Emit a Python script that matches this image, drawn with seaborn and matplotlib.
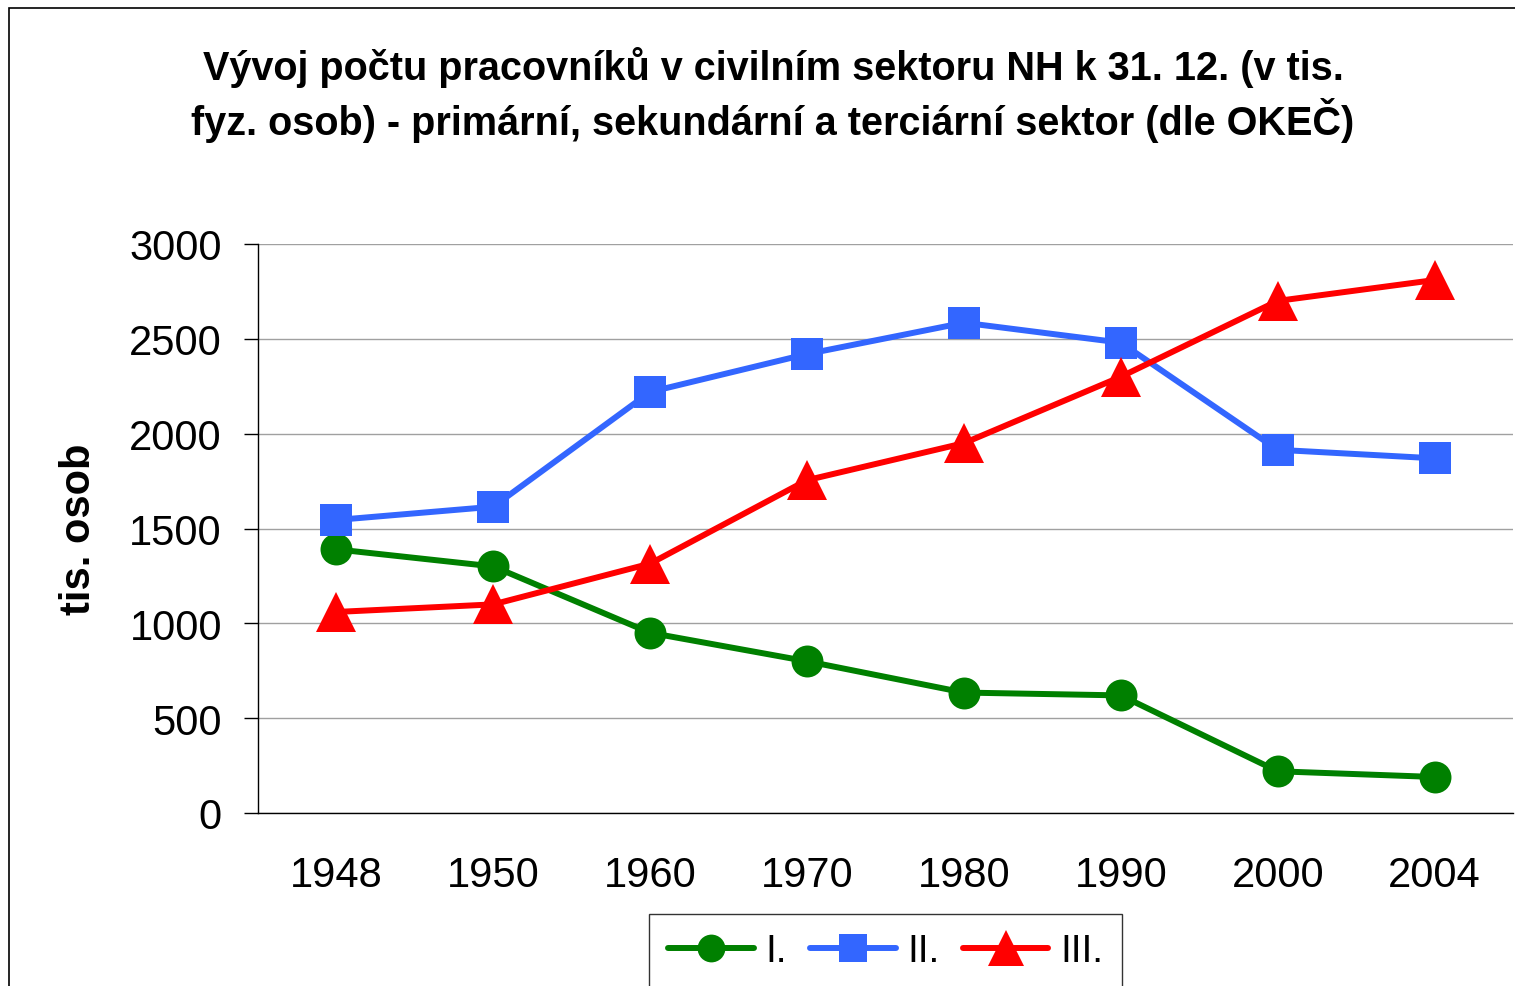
import numpy as np
import pandas as pd
import seaborn as sns
import matplotlib.pyplot as plt
from matplotlib.patches import Rectangle
from matplotlib.lines import Line2D

# data (tis. osob)
years = ['1948', '1950', '1960', '1970', '1980', '1990', '2000', '2004']
primary = [1390, 1300, 950, 800, 635, 620, 220, 190]
secondary = [1545, 1615, 2220, 2420, 2585, 2480, 1915, 1870]
tertiary = [1060, 1100, 1315, 1755, 1950, 2300, 2700, 2810]
series_names = ['I.', 'II.', 'III.']

df = pd.DataFrame({
    'pos': list(range(len(years))) * 3,
    'value': primary + secondary + tertiary,
    'sektor': [s for s in series_names for _ in years],
})

colors = {'I.': '#008000', 'II.': '#3366FF', 'III.': '#FF0000'}
markers = {'I.': 'o', 'II.': 's', 'III.': '^'}
msizes = {'I.': 23, 'II.': 23, 'III.': 29}

sns.set_style('white')
plt.rcParams['font.family'] = ['Liberation Sans', 'DejaVu Sans']
plt.rcParams['text.color'] = 'black'
plt.rcParams['axes.labelcolor'] = 'black'
plt.rcParams['xtick.color'] = 'black'
plt.rcParams['ytick.color'] = 'black'

fig = plt.figure(figsize=(15.15, 9.87), dpi=100)
ax = fig.add_axes([258 / 1515, 1 - 814 / 987, 1255 / 1515, (814 - 245) / 987])

for s in series_names:
    sub = df[df['sektor'] == s]
    sns.lineplot(data=sub, x='pos', y='value', color=colors[s], marker=markers[s],
                 linewidth=4.3, markersize=msizes[s], markeredgewidth=0, ax=ax)

ax.set_xlim(-0.5, len(years) - 0.5)
ax.set_ylim(0, 3000)
ax.set_yticks(np.arange(0, 3001, 500))
ax.set_xticks(range(len(years)))
ax.set_xticklabels(years)
ax.set_xticks(np.arange(-0.5, len(years), 1), minor=True)
ax.tick_params(axis='x', which='major', length=0, labelsize=30, pad=30)
ax.tick_params(axis='x', which='minor', length=10, width=1, color='black', direction='out')
ax.tick_params(axis='y', length=10, width=1, color='black', direction='out', labelsize=30, pad=16, left=True)
ax.set_xlabel('')
ax.set_ylabel('tis. osob', fontsize=30, fontweight='bold', labelpad=22)

ax.yaxis.grid(True, color='#a0a0a0', linewidth=1)
ax.xaxis.grid(False)
ax.set_axisbelow(True)
for side in ['top', 'right']:
    ax.spines[side].set_visible(False)
for side in ['left', 'bottom']:
    ax.spines[side].set_color('black')
    ax.spines[side].set_linewidth(1)

fig.text(773 / 1515, 1 - 95 / 987,
         'Vývoj počtu pracovníků v civilním sektoru NH k 31. 12. (v tis.\nfyz. osob) - primární, sekundární a terciární sektor (dle OKEČ)',
         ha='center', va='center', fontsize=28.5, fontweight='bold', linespacing=1.28)

handles = [Line2D([], [], color=colors[s], marker=markers[s], linewidth=4.3,
                  markersize=msizes[s] - 3, markeredgewidth=0, solid_capstyle='round') for s in series_names]
leg = ax.legend(handles, series_names, loc='upper center', bbox_to_anchor=(0.5, -(915 - 814) / 569),
                borderaxespad=0, ncol=3, fontsize=28, frameon=True, fancybox=False, edgecolor='black',
                handlelength=2.2, columnspacing=0.6, handletextpad=0.3, borderpad=0.5)
leg.get_frame().set_linewidth(1)

# outer chart frame
fig.add_artist(Rectangle((9 / 1515, -0.1), 1.2, 1 - 9 / 987 + 0.1, transform=fig.transFigure,
                         fill=False, edgecolor='black', linewidth=1.2))

fig.savefig('out.png', dpi=100)
